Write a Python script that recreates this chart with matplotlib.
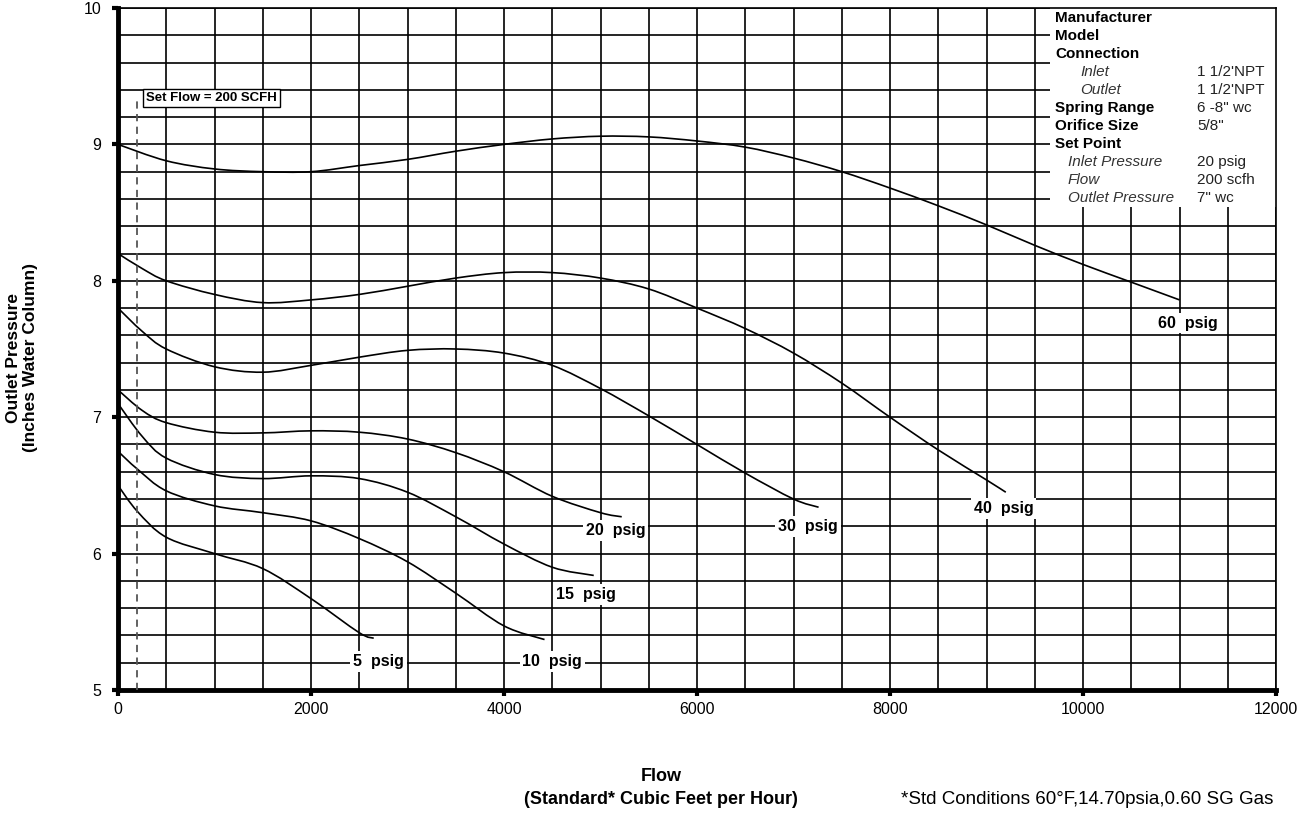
import numpy as np
import matplotlib.pyplot as plt
from matplotlib.patches import Rectangle, PathPatch
from matplotlib.path import Path
from matplotlib.ticker import MultipleLocator

plt.rcParams['font.family'] = ['Liberation Sans', 'DejaVu Sans']

# curves: flow (SCFH) vs outlet pressure (in. w.c.)
flow_60 = [0, 500, 1000, 1500, 2000, 2500, 3000, 3500, 4000, 4500, 5000, 5500,
           6000, 6500, 7000, 7500, 8000, 8500, 9000, 9500, 10000, 10500, 11000]
p_60 = [9.0, 8.88, 8.82, 8.80, 8.80, 8.845, 8.89, 8.95, 9.0, 9.04, 9.06, 9.055,
        9.025, 8.98, 8.90, 8.80, 8.68, 8.55, 8.41, 8.26, 8.12, 7.99, 7.86]

flow_40 = [0, 250, 500, 1000, 1500, 2000, 2500, 3000, 3500, 4000, 4500, 5000,
           5500, 6000, 6500, 7000, 7500, 8000, 8500, 9000, 9200]
p_40 = [8.2, 8.09, 8.0, 7.90, 7.84, 7.86, 7.90, 7.96, 8.02, 8.06, 8.06, 8.02,
        7.94, 7.80, 7.65, 7.47, 7.25, 7.0, 6.76, 6.54, 6.45]

flow_30 = [0, 250, 500, 1000, 1500, 2000, 2500, 3000, 3500, 4000, 4500, 5000,
           5500, 6000, 6500, 7000, 7260]
p_30 = [7.8, 7.63, 7.5, 7.37, 7.33, 7.38, 7.44, 7.49, 7.50, 7.47, 7.38, 7.21,
        7.01, 6.80, 6.59, 6.40, 6.34]

flow_20 = [0, 250, 500, 1000, 1500, 2000, 2500, 3000, 3500, 4000, 4500, 5000, 5220]
p_20 = [7.2, 7.05, 6.96, 6.89, 6.885, 6.9, 6.89, 6.84, 6.74, 6.6, 6.42, 6.30, 6.27]

flow_15 = [0, 250, 500, 1000, 1500, 2000, 2500, 3000, 3500, 4000, 4500, 4930]
p_15 = [7.1, 6.86, 6.7, 6.58, 6.55, 6.57, 6.55, 6.45, 6.27, 6.07, 5.9, 5.84]

flow_10 = [0, 200, 500, 1000, 1500, 2000, 2500, 3000, 3500, 4000, 4420]
p_10 = [6.75, 6.62, 6.46, 6.35, 6.3, 6.24, 6.11, 5.94, 5.71, 5.47, 5.37]

flow_5 = [0, 200, 500, 1000, 1500, 2000, 2500, 2650]
p_5 = [6.5, 6.31, 6.12, 6.0, 5.89, 5.67, 5.42, 5.38]

curve_labels = ['5  psig', '10  psig', '15  psig', '20  psig', '30  psig', '40  psig', '60  psig']
label_x = [2700, 4500, 4850, 5160, 7150, 9180, 11090]
label_y = [5.21, 5.21, 5.70, 6.17, 6.20, 6.33, 7.69]

set_flow = 200

spec_names = ['Manufacturer', 'Model', 'Connection', 'Inlet', 'Outlet', 'Spring Range',
              'Orifice Size', 'Set Point', 'Inlet Pressure', 'Flow', 'Outlet Pressure']
spec_values = ['', '', '', "1 1/2'NPT", "1 1/2'NPT", '6 -8" wc', '5/8"', '',
               '20 psig', '200 scfh', '7" wc']


def smooth_path(xs, ys):
    # catmull-rom through the read points, drawn as cubic bezier segments
    pts = np.column_stack([xs, ys]).astype(float)
    n = len(pts)
    verts = [pts[0]]
    codes = [Path.MOVETO]
    for i in range(n - 1):
        p0 = pts[i - 1] if i > 0 else pts[i]
        p1, p2 = pts[i], pts[i + 1]
        p3 = pts[i + 2] if i + 2 < n else pts[i + 1]
        verts += [p1 + (p2 - p0) / 6, p2 - (p3 - p1) / 6, p2]
        codes += [Path.CURVE4] * 3
    return Path(verts, codes)


W, H = 1302, 818
fig = plt.figure(figsize=(W / 100, H / 100), dpi=100)
ax = fig.add_axes([118 / W, 1 - 690 / H, 1158 / W, 682 / H])

curves = [(flow_5, p_5), (flow_10, p_10), (flow_15, p_15), (flow_20, p_20),
          (flow_30, p_30), (flow_40, p_40), (flow_60, p_60)]
for cx, cy in curves:
    ax.add_patch(PathPatch(smooth_path(cx, cy), fill=False, edgecolor='black', lw=1.2, zorder=3))

for txt, lx, ly in zip(curve_labels, label_x, label_y):
    ax.text(lx, ly, txt, ha='center', va='center', fontsize=11.5, fontweight='bold',
            zorder=4, bbox=dict(facecolor='white', edgecolor='none', pad=2))

# set flow marker
ax.plot([set_flow, set_flow], [5, 9.35], color='#555555', lw=1.3, ls=(0, (4, 3)), zorder=3)
ax.text(set_flow + 90, 9.34, 'Set Flow = 200 SCFH', ha='left', va='center', fontsize=9.5,
        fontweight='bold', zorder=4,
        bbox=dict(facecolor='white', edgecolor='black', linewidth=1.0, pad=2.5))

ax.set_xlim(0, 12000)
ax.set_ylim(5, 10)
ax.xaxis.set_major_locator(MultipleLocator(2000))
ax.yaxis.set_major_locator(MultipleLocator(1))
ax.xaxis.set_minor_locator(MultipleLocator(500))
ax.yaxis.set_minor_locator(MultipleLocator(0.2))
ax.grid(which='both', color='black', lw=1.2)
ax.set_axisbelow(True)
ax.tick_params(which='minor', length=0)
ax.tick_params(which='major', direction='out', length=4, width=3, labelsize=11.5)
ax.tick_params(axis='y', pad=8)
ax.tick_params(axis='x', pad=5)

for side in ['left', 'bottom']:
    ax.spines[side].set_linewidth(3.5)
for side in ['top', 'right']:
    ax.spines[side].set_linewidth(1.2)

# spec table block
ax.add_patch(Rectangle((9660, 8.54), 2340, 1.46, facecolor='white', edgecolor='none', zorder=1))


def fx(px):
    return px / W


def fy(py):
    return 1 - py / H


row_y = 18
for name, val in zip(spec_names, spec_values):
    if name in ('Inlet', 'Outlet'):
        fig.text(fx(1080), fy(row_y), name, fontsize=11, style='italic', color='#333333', va='center')
    elif name in ('Inlet Pressure', 'Flow', 'Outlet Pressure'):
        fig.text(fx(1068), fy(row_y), name, fontsize=11, style='italic', color='#333333', va='center')
    else:
        fig.text(fx(1055), fy(row_y), name, fontsize=11, fontweight='bold', va='center')
    if val:
        fig.text(fx(1197), fy(row_y), val, fontsize=11, color='#222222', va='center')
    row_y += 18

fig.text(fx(22), fy(358), 'Outlet Pressure\n(Inches Water Column)', rotation=90, ha='center',
         va='center', fontsize=12.5, fontweight='bold', linespacing=1.15)
fig.text(fx(661), fy(788), 'Flow\n(Standard* Cubic Feet per Hour)', ha='center', va='center',
         fontsize=13, fontweight='bold', linespacing=1.45)
fig.text(fx(1087), fy(800), '*Std Conditions 60°F,14.70psia,0.60 SG Gas', ha='center',
         va='center', fontsize=13.5)

fig.savefig('out.png', dpi=100)
